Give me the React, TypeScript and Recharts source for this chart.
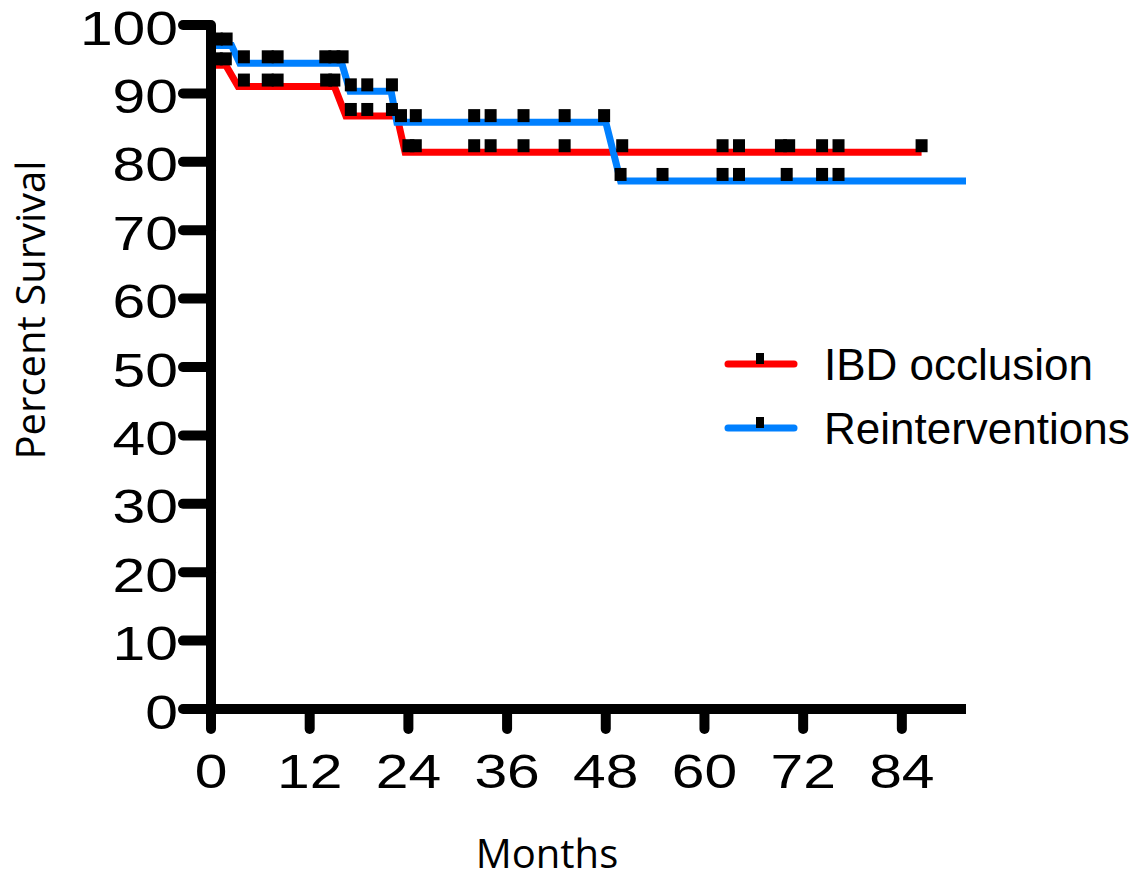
import { ComposedChart, Line, Scatter, XAxis, YAxis, Legend } from "recharts";

// step curve vertices (months, % survival)
const occlusionTimes = [0, 0.1, 1.8, 3.3, 15.0, 16.4, 22.6, 23.6, 86.4];
const occlusionSurvival = [100, 94.1, 94.1, 91.0, 91.0, 86.7, 86.7, 81.4, 81.4];

const reintTimes = [0, 0.3, 2.5, 3.5, 15.9, 16.9, 21.9, 22.6, 48.0, 49.8, 91.8];
const reintSurvival = [100, 97.0, 97.0, 94.4, 94.4, 90.3, 90.3, 85.8, 85.8, 77.2, 77.2];

// censored observations
const occlusionCensorTimes = [0.7, 1.8, 4.0, 6.9, 8.1, 14.0, 15.0, 17.0, 19.0, 22.0, 24.0, 24.9, 32.0, 34.0, 38.0, 43.0, 50.0, 62.2, 64.2, 69.3, 70.3, 74.3, 76.3, 86.4];
const occlusionCensorSurvival = [94.1, 94.1, 91.0, 91.0, 91.0, 91.0, 91.0, 86.7, 86.7, 86.7, 81.4, 81.4, 81.4, 81.4, 81.4, 81.4, 81.4, 81.4, 81.4, 81.4, 81.4, 81.4, 81.4, 81.4];

const reintCensorTimes = [0.7, 1.9, 4.0, 6.9, 8.1, 13.9, 15.0, 16.0, 17.0, 19.0, 22.0, 23.1, 24.9, 32.0, 34.0, 38.0, 43.0, 47.8, 49.8, 54.9, 62.2, 64.2, 70.0, 74.3, 76.3];
const reintCensorSurvival = [97.0, 97.0, 94.4, 94.4, 94.4, 94.4, 94.4, 94.4, 90.3, 90.3, 90.3, 85.8, 85.8, 85.8, 85.8, 85.8, 85.8, 85.8, 77.2, 77.2, 77.2, 77.2, 77.2, 77.2, 77.2];

const monthTicks = [0, 12, 24, 36, 48, 60, 72, 84];
const survivalTicks = [0, 10, 20, 30, 40, 50, 60, 70, 80, 90, 100];

const toPoints = (t: number[], s: number[]) => t.map((x, i) => ({ t: x, s: s[i] }));

const TICK_FONT = "'Liberation Sans', Arial, sans-serif";
const TITLE_FONT = "'Open Sans', sans-serif";

function XTick({ x, y, payload }: any) {
  return (
    <g transform={`translate(${x},${y})`}>
      <text transform="scale(1.2,1)" textAnchor="middle" dy="0.71em" fontSize={49} fontFamily={TICK_FONT} fill="#000">
        {payload.value}
      </text>
    </g>
  );
}

function YTick({ x, y, payload }: any) {
  return (
    <g transform={`translate(${x},${y})`}>
      <text transform="scale(1.2,1)" textAnchor="end" dy="0.4em" fontSize={49} fontFamily={TICK_FONT} fill="#000">
        {payload.value}
      </text>
    </g>
  );
}

const CensorMark = ({ cx, cy }: any) => <rect x={cx - 6} y={cy - 13} width={12} height={13} fill="#000" />;

function KMLegend({ payload }: any) {
  const items = (payload || []).filter((p: any) => p.type !== "none");
  return (
    <svg width={440} height={140}>
      {items.map((p: any, i: number) => {
        const cy = 34 + i * 64;
        return (
          <g key={p.value}>
            <line x1={28} x2={94} y1={cy} y2={cy} stroke={p.color} strokeWidth={7} strokeLinecap="round" />
            <rect x={56} y={cy - 11} width={8} height={11} fill="#000" />
            <text x={124} y={cy + 16} fontSize={44} fontFamily={TICK_FONT} fill="#000">
              {p.value}
            </text>
          </g>
        );
      })}
    </svg>
  );
}

export default function App() {
  return (
    <div style={{ position: "absolute", left: 0, top: 0, background: "#fff" }}>
      <ComposedChart width={1143} height={880} margin={{ top: 25, right: 177, left: 0, bottom: 0 }}>
        <XAxis
          type="number"
          dataKey="t"
          domain={[0, 91.8]}
          allowDataOverflow
          ticks={monthTicks}
          height={171}
          tickSize={20}
          tickMargin={24}
          axisLine={{ stroke: "#000", strokeWidth: 10 }}
          tickLine={{ stroke: "#000", strokeWidth: 10, strokeLinecap: "round" }}
          tick={<XTick />}
          label={() => (
            <text x={547} y={868} textAnchor="middle" fontSize={40} fontFamily={TITLE_FONT} fill="#000">
              Months
            </text>
          )}
        />
        <YAxis
          type="number"
          dataKey="s"
          domain={[0, 100]}
          ticks={survivalTicks}
          width={211}
          tickSize={28}
          tickMargin={5}
          axisLine={{ stroke: "#000", strokeWidth: 10 }}
          tickLine={{ stroke: "#000", strokeWidth: 10, strokeLinecap: "round" }}
          tick={<YTick />}
          label={() => (
            <text x={45} y={310} transform="rotate(-90, 45, 310)" textAnchor="middle" fontSize={40} fontFamily={TITLE_FONT} fill="#000">
              Percent Survival
            </text>
          )}
        />
        <Legend
          layout="vertical"
          align="center"
          verticalAlign="middle"
          content={<KMLegend />}
          wrapperStyle={{ position: "absolute", left: 700, top: 330, width: 440, height: 140 }}
        />
        <Line
          data={toPoints(occlusionTimes, occlusionSurvival)}
          dataKey="s"
          name="IBD occlusion"
          type="linear"
          stroke="#ff0000"
          strokeWidth={7}
          dot={false}
          activeDot={false}
          isAnimationActive={false}
        />
        <Line
          data={toPoints(reintTimes, reintSurvival)}
          dataKey="s"
          name="Reinterventions"
          type="linear"
          stroke="#0080ff"
          strokeWidth={7}
          dot={false}
          activeDot={false}
          isAnimationActive={false}
        />
        <Scatter
          data={toPoints(occlusionCensorTimes, occlusionCensorSurvival)}
          dataKey="s"
          legendType="none"
          shape={<CensorMark />}
          isAnimationActive={false}
        />
        <Scatter
          data={toPoints(reintCensorTimes, reintCensorSurvival)}
          dataKey="s"
          legendType="none"
          shape={<CensorMark />}
          isAnimationActive={false}
        />
      </ComposedChart>
    </div>
  );
}
